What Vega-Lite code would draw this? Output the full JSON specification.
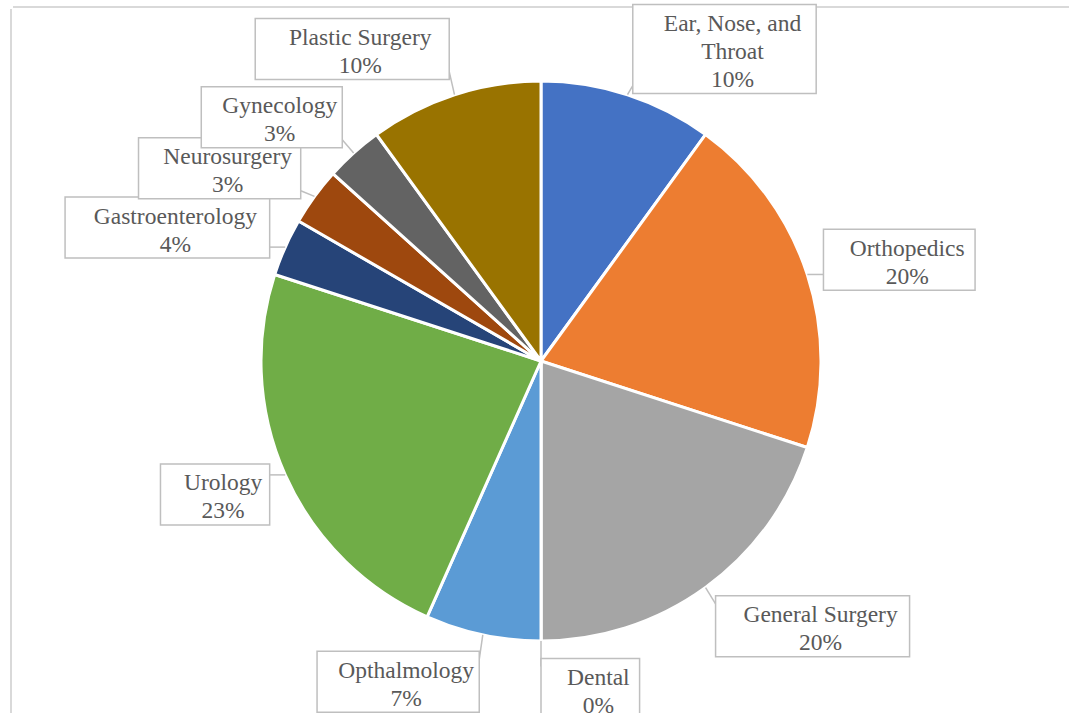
{
  "$schema": "https://vega.github.io/schema/vega-lite/v6.json",
  "width": 1056,
  "height": 704,
  "padding": {"left": 13, "top": 9, "right": 0, "bottom": 0},
  "autosize": {"type": "none"},
  "background": "white",
  "config": {"view": {"stroke": null}},
  "data": {
    "values": [
      {"k": 1, "specialty": "Ear, Nose, and Throat", "count": 3, "label": "Ear, Nose, and\nThroat\n10%"},
      {"k": 2, "specialty": "Orthopedics", "count": 6, "label": "Orthopedics\n20%"},
      {"k": 3, "specialty": "General Surgery", "count": 6, "label": "General Surgery\n20%"},
      {"k": 4, "specialty": "Dental", "count": 0, "label": "Dental\n0%"},
      {"k": 5, "specialty": "Opthalmology", "count": 2, "label": "Opthalmology\n7%"},
      {"k": 6, "specialty": "Urology", "count": 7, "label": "Urology\n23%"},
      {"k": 7, "specialty": "Gastroenterology", "count": 1, "label": "Gastroenterology\n4%"},
      {"k": 8, "specialty": "Neurosurgery", "count": 1, "label": "Neurosurgery\n3%"},
      {"k": 9, "specialty": "Gynecology", "count": 1, "label": "Gynecology\n3%"},
      {"k": 10, "specialty": "Plastic Surgery", "count": 3, "label": "Plastic Surgery\n10%"}
    ]
  },
  "layer": [
    {
      "mark": {"type": "rule", "color": "#d9d9d9", "strokeWidth": 2},
      "encoding": {
        "x": {"datum": -530, "type": "quantitative", "scale": {"domain": [-528, 528], "nice": false, "zero": false}, "axis": null}
      }
    },
    {
      "mark": {"type": "rule", "color": "#d9d9d9", "strokeWidth": 2},
      "encoding": {
        "y": {"datum": 354, "type": "quantitative", "scale": {"domain": [-352, 352], "nice": false, "zero": false}, "axis": null}
      }
    },
    {
      "mark": {"type": "arc", "outerRadius": 280, "stroke": "white", "strokeWidth": 3},
      "encoding": {
        "theta": {"field": "count", "type": "quantitative", "stack": true},
        "order": {"field": "k", "type": "quantitative"},
        "color": {
          "field": "specialty",
          "type": "nominal",
          "sort": null,
          "legend": null,
          "scale": {
            "domain": ["Ear, Nose, and Throat", "Orthopedics", "General Surgery", "Dental", "Opthalmology", "Urology", "Gastroenterology", "Neurosurgery", "Gynecology", "Plastic Surgery"],
            "range": ["#4472C4", "#ED7D31", "#A5A5A5", "#FFC000", "#5B9BD5", "#70AD47", "#264478", "#9E480E", "#636363", "#997300"]
          }
        }
      }
    },
    {
      "transform": [
        {"window": [{"op": "sum", "field": "count", "as": "cum"}], "sort": [{"field": "k"}], "frame": [null, 0]},
        {"joinaggregate": [{"op": "sum", "field": "count", "as": "total"}]},
        {"calculate": "(datum.cum - datum.count/2)/datum.total*2*PI", "as": "th"},
        {"calculate": "split(datum.label, '\\n')", "as": "lines"},
        {"calculate": "length(datum.lines[0])*10.6+35", "as": "w"},
        {"calculate": "length(datum.lines)*28+5", "as": "h"},
        {"calculate": "sin(datum.th) >= 0 ? 1 : -1", "as": "sd"},
        {"calculate": "297*sin(datum.th)", "as": "ex"},
        {"calculate": "datum.ex + datum.sd*datum.w", "as": "ex2"},
        {"calculate": "datum.ex + datum.sd*datum.w/2", "as": "lx"},
        {"calculate": "328*cos(datum.th)", "as": "ly"},
        {"calculate": "datum.ly + (length(datum.lines)-1)*14 - 3", "as": "ty"},
        {"calculate": "datum.ly - datum.h/2", "as": "by1"},
        {"calculate": "datum.ly + datum.h/2", "as": "by2"},
        {"calculate": "280*sin(datum.th)", "as": "px"},
        {"calculate": "280*cos(datum.th)", "as": "py"},
        {"calculate": "clamp(datum.py, datum.by1 + 8, datum.by2 - 8)", "as": "ry"}
      ],
      "layer": [
        {
          "mark": {"type": "rule", "color": "#bfbfbf", "strokeWidth": 1.5},
          "encoding": {
            "x": {"field": "ex", "type": "quantitative"},
            "y": {"field": "ry", "type": "quantitative"},
            "x2": {"field": "px"},
            "y2": {"field": "py"}
          }
        },
        {
          "mark": {"type": "rect", "fill": "white", "stroke": "#bfbfbf", "strokeWidth": 1.5},
          "encoding": {
            "x": {"field": "ex", "type": "quantitative"},
            "x2": {"field": "ex2"},
            "y": {"field": "by1", "type": "quantitative"},
            "y2": {"field": "by2"}
          }
        },
        {
          "mark": {"type": "text", "font": "Liberation Serif", "fontSize": 23.5, "color": "#595959", "align": "center", "baseline": "middle", "lineBreak": "\n", "lineHeight": 28, "dx": 8},
          "encoding": {
            "x": {"field": "lx", "type": "quantitative"},
            "y": {"field": "ty", "type": "quantitative"},
            "text": {"field": "label", "type": "nominal"}
          }
        }
      ]
    }
  ]
}
